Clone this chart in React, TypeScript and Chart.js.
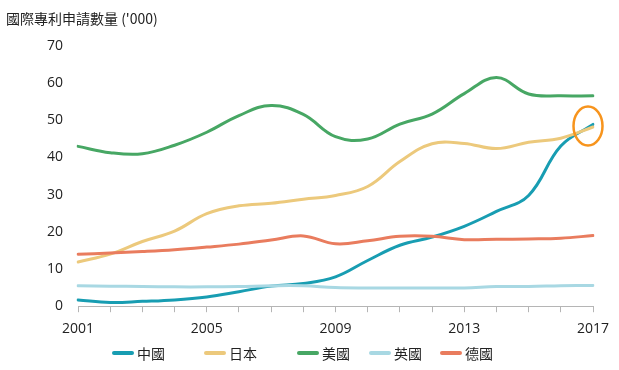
import React, { useEffect, useRef } from "react";
import { Chart, registerables } from "chart.js";

Chart.register(...registerables);

const years = ["2001","2002","2003","2004","2005","2006","2007","2008","2009","2010","2011","2012","2013","2014","2015","2016","2017"];
const seriesNames = ["中國", "日本", "美國", "英國", "德國"];
const china = [1.7, 1.0, 1.3, 1.7, 2.5, 3.9, 5.4, 6.1, 7.9, 12.3, 16.4, 18.6, 21.5, 25.5, 29.8, 43.1, 48.9];
const japan = [11.9, 14.0, 17.4, 20.2, 24.9, 27.0, 27.7, 28.8, 29.8, 32.2, 38.9, 43.7, 43.8, 42.4, 44.1, 45.2, 48.2];
const usa = [43.0, 41.3, 41.0, 43.3, 46.8, 51.3, 54.0, 51.6, 45.6, 45.0, 49.0, 51.7, 57.2, 61.5, 57.1, 56.6, 56.6];
const uk = [5.5, 5.4, 5.3, 5.2, 5.2, 5.3, 5.5, 5.5, 5.0, 4.9, 4.9, 4.9, 4.9, 5.3, 5.3, 5.5, 5.6];
const germany = [14.0, 14.3, 14.7, 15.2, 15.9, 16.7, 17.8, 18.9, 16.8, 17.6, 18.8, 18.8, 17.9, 18.0, 18.1, 18.3, 19.0];
const colors = ["#189db2", "#ecc97c", "#47a764", "#a8d8e3", "#e97c5e"];
const yTicks = [0, 10, 20, 30, 40, 50, 60, 70];
const title = "國際專利申請數量 ('000)";
const highlightIndex = 16;
const highlightValue = 48.5;

const legendLeft = [112, 204, 297, 369, 440];

const ellipsePlugin = {
  id: "highlightEllipse",
  afterDatasetsDraw(chart: any) {
    const { ctx, scales } = chart;
    const x = scales.x.getPixelForValue(highlightIndex) - 5;
    const y = scales.y.getPixelForValue(highlightValue);
    ctx.save();
    ctx.beginPath();
    ctx.ellipse(x, y, 14.5, 19.5, 0, 0, Math.PI * 2);
    ctx.strokeStyle = "#f7941d";
    ctx.lineWidth = 2.5;
    ctx.stroke();
    ctx.restore();
  },
};

export default function App() {
  const ref = useRef<HTMLCanvasElement>(null);
  useEffect(() => {
    const all = [china, japan, usa, uk, germany];
    const chart = new Chart(ref.current!, {
      type: "line",
      data: {
        labels: years,
        datasets: all.map((d, i) => ({
          label: seriesNames[i],
          data: d,
          borderColor: colors[i],
          backgroundColor: colors[i],
          borderWidth: 3,
          pointRadius: 0,
          tension: 0.4,
          fill: false,
          borderCapStyle: "round" as const,
        })).reverse(),
      },
      options: {
        animation: false,
        responsive: false,
        maintainAspectRatio: false,
        layout: { padding: { top: 46, right: 26, bottom: 25, left: 32 } },
        plugins: { legend: { display: false }, title: { display: false }, tooltip: { enabled: false } },
        scales: {
          x: {
            grid: { display: true, drawOnChartArea: false, drawTicks: true, tickLength: 6, color: "#b5b5b5" },
            border: { display: true, color: "#b5b5b5", width: 1 },
            ticks: {
              autoSkip: false,
              maxRotation: 0,
              color: "#222",
              font: { family: "'Open Sans', 'Liberation Sans', sans-serif", size: 14 },
              padding: 8,
              callback: (_v: any, i: number) => (i % 4 === 0 ? years[i] : ""),
            },
          },
          y: {
            min: 0,
            max: 70,
            afterBuildTicks: (axis: any) => { axis.ticks = yTicks.map((v) => ({ value: v })); },
            grid: { display: false, drawTicks: false },
            border: { display: false },
            ticks: {
              color: "#222",
              font: { family: "'Open Sans', 'Liberation Sans', sans-serif", size: 14 },
              padding: 15,
            },
          },
        },
      },
      plugins: [ellipsePlugin],
    });
    return () => chart.destroy();
  }, []);

  return (
    <div style={{ position: "fixed", left: 0, top: 0, width: 619, height: 370, background: "#fff" }}>
      <canvas ref={ref} width={619} height={370} style={{ position: "absolute", left: 0, top: 0 }} />
      <div style={{ position: "absolute", left: 6, top: 8, fontFamily: "'Noto Sans CJK TC', 'Open Sans', sans-serif", fontSize: 14, lineHeight: "20px", color: "#222", whiteSpace: "nowrap" }}>
        {title}
      </div>
      {seriesNames.map((n, i) => (
        <div key={n} style={{ position: "absolute", left: legendLeft[i], top: 343, height: 20, display: "flex", alignItems: "center", fontFamily: "'Noto Sans CJK TC', sans-serif", fontSize: 14, color: "#222", whiteSpace: "nowrap" }}>
          <span style={{ display: "inline-block", width: 22, height: 4, borderRadius: 2, background: colors[i], marginRight: 3 }} />
          <span>{n}</span>
        </div>
      ))}
    </div>
  );
}
